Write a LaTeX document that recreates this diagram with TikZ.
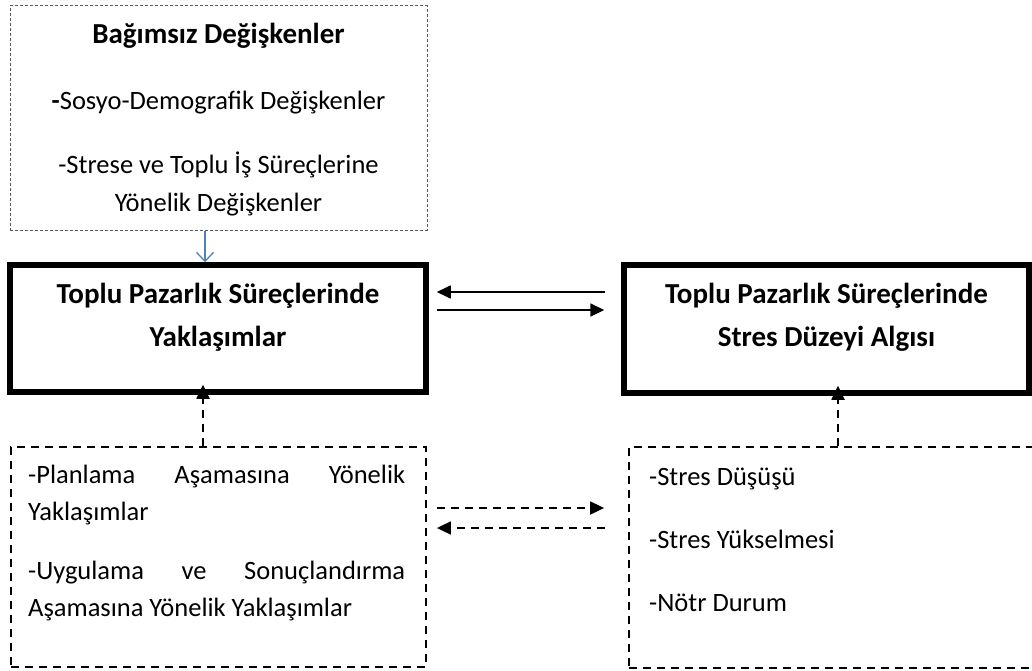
\documentclass[tikz,border=0pt]{standalone}
\usepackage{fontspec}
\setmainfont{Carlito}
\usetikzlibrary{arrows.meta,positioning}

\begin{document}
\begin{tikzpicture}[x=1pt, y=-1pt, >={Triangle[length=14pt,width=13pt]},
box/.style = {draw, rectangle, inner sep=0pt},
mainbox/.style = {box, line width=5.5pt},
dotbox/.style = {box, draw=black!65, line width=1pt, dash pattern=on 3pt off 2pt},
dashbox/.style = {box, line width=1.8pt, dash pattern=on 8pt off 6pt},
head/.style = {font=\fontsize{29}{34}\selectfont\bfseries, inner sep=0pt, anchor=base},
item/.style = {font=\fontsize{26.5}{32}\selectfont, inner sep=0pt, anchor=base west},
link/.style = {->, line width=1.7pt},
dlink/.style = {->, line width=1.8pt, dash pattern=on 8pt off 6pt}]

    \useasboundingbox (0,0) rectangle (1032,671);

    % boxes
    \node [dotbox, minimum width=417pt, minimum height=224pt]  (indep)   at (218.5,118) {};
    \node [mainbox, minimum width=416pt, minimum height=127pt] (approach) at (218,328.5) {};
    \node [mainbox, minimum width=405pt, minimum height=128pt] (stress)  at (826.5,329) {};
    \node [dashbox, minimum width=415pt, minimum height=220pt] (appsub)  at (218.5,557) {};
    \node [dashbox, minimum width=414pt, minimum height=221pt] (strsub)  at (836,557.5) {};

    % texts
    \node [head]              (indtitle) at (218.5,44)  {Bağımsız Değişkenler};
    \node [item, anchor=base] (ind1)     at (218.5,110) {\textbf{-}Sosyo-Demografik Değişkenler};
    \node [item, anchor=base] (ind2)     at (218.5,173) {-Strese ve Toplu İş Süreçlerine};
    \node [item, anchor=base] (ind3)     at (218.5,211) {Yönelik Değişkenler};

    \node [head] (app1) at (218,303) {Toplu Pazarlık Süreçlerinde};
    \node [head] (app2) at (218,346) {Yaklaşımlar};
    \node [head] (str1) at (826.5,303) {Toplu Pazarlık Süreçlerinde};
    \node [head] (str2) at (826.5,346) {Stres Düzeyi Algısı};

    \node [item] (asub1) at (28,483) {\makebox[377pt][s]{-Planlama Aşamasına Yönelik}};
    \node [item] (asub2) at (28,520) {Yaklaşımlar};
    \node [item] (asub3) at (28,579) {\makebox[377pt][s]{-Uygulama ve Sonuçlandırma}};
    \node [item] (asub4) at (28,616) {Aşamasına Yönelik Yaklaşımlar};

    \node [item] (ssub1) at (649,485) {-Stres Düşüşü};
    \node [item] (ssub2) at (649,548) {-Stres Yükselmesi};
    \node [item] (ssub3) at (649,611) {-Nötr Durum};

    % connectors
    \draw [-{Straight Barb[length=9pt,width=17pt]}, line width=1.3pt, draw={rgb,255:red,79;green,129;blue,189}]
        (indep.south -| 205,0) -- (approach.north -| 205,0);
    \draw [link, shorten <=16pt, shorten >=8pt] (stress.west |- 0,292) -- (approach.east |- 0,292);
    \draw [link, shorten <=8pt, shorten >=17pt] (approach.east |- 0,310) -- (stress.west |- 0,310);
    \draw [dlink, shorten >=-10pt] (appsub.north -| 203,0) -- (approach.south -| 203,0);
    \draw [dlink, shorten >=-10pt] (strsub.north -| 838,0) -- (stress.south -| 838,0);
    \draw [dlink, shorten <=10pt, shorten >=24pt] (appsub.east |- 0,508) -- (strsub.west |- 0,508);
    \draw [dlink, shorten <=23pt, shorten >=10pt] (strsub.west |- 0,528) -- (appsub.east |- 0,528);
\end{tikzpicture}
\end{document}
